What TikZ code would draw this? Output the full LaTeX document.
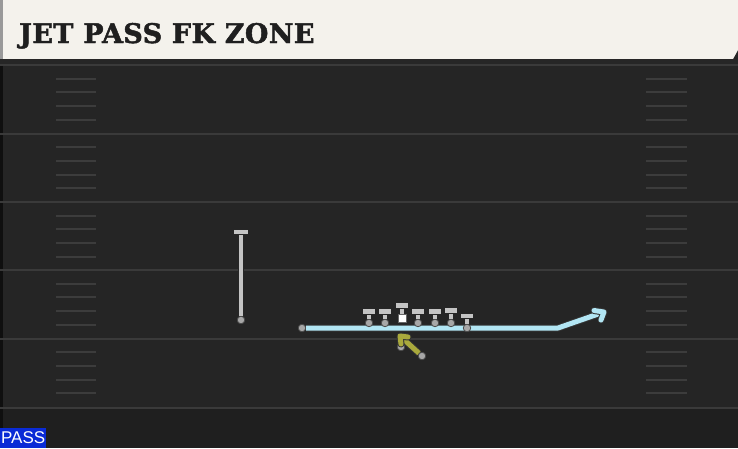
\documentclass[tikz,border=0pt]{standalone}
\usepackage{fontspec}
\usetikzlibrary{arrows.meta}
\newfontfamily\titlefont{DejaVu Serif}[FakeBold=1.8, LetterSpace=1.5]
\newfontfamily\tagfont{Liberation Sans}
\definecolor{titlebg}{HTML}{F4F2EC}
\definecolor{fieldbg}{HTML}{252525}
\definecolor{endbg}{HTML}{1F1F1F}
\definecolor{yardgray}{HTML}{3A3A3A}
\definecolor{hashgray}{HTML}{3C3C3C}
\definecolor{plyrgray}{HTML}{C4C4C4}
\definecolor{routeblue}{HTML}{B2E6F4}
\definecolor{motionyel}{HTML}{A9A93C}
\definecolor{passblue}{HTML}{0A2BD6}
\tikzset{
  yardln/.style={yardgray, line width=2pt},
  hashln/.style={hashgray, line width=2pt},
  plyr/.style={circle, fill=plyrgray!85!black, draw=black!70, line width=.8pt, inner sep=0pt, minimum size=7.5pt},
  block/.style={draw=black!85, line width=6.5pt, postaction={draw=plyrgray, line width=4.5pt}},
  route/.style={draw=black!80, line width=7pt, postaction={draw=routeblue, line width=5pt}},
  motion/.style={draw=black!80, line width=7pt, postaction={draw=motionyel, line width=5pt}},
  passtag/.style={fill=passblue, text=white, font=\tagfont\fontsize{17}{17}\selectfont, inner sep=0pt, minimum width=46pt, minimum height=20pt}
}
\begin{document}
\begin{tikzpicture}[x=1pt,y=-1pt]
  \useasboundingbox (0,0) rectangle (738,448);
  % field
  \fill[fieldbg] (0,0) rectangle (738,448);
  \fill[endbg] (0,408) rectangle (738,448);
  \fill[black!60!fieldbg] (0,59) rectangle (3,448);
  \foreach \yl in {65,133.5,202,270,338.5,408}
    \draw[yardln] (0,\yl) -- (738,\yl);
  \foreach \yl in {65,133.5,202,270,338.5}
    \foreach \k in {1,2,3,4} {
      \draw[hashln] (56,\yl+13.7*\k) -- (96,\yl+13.7*\k);
      \draw[hashln] (646,\yl+13.7*\k) -- (687,\yl+13.7*\k);
    }
  % title bar
  \fill[titlebg] (0,0) -- (738,0) -- (738,50) -- (733,59) -- (0,59) -- cycle;
  \fill[black!40] (0,0) rectangle (3,59);
  \fill[black!85] (0,59) rectangle (738,64);
  \node[anchor=base west, inner sep=0pt, text=black!88, font=\titlefont\bfseries\fontsize{27}{27}\selectfont] (title) at (19,43) {JET PASS FK ZONE};

  % receiver
  \node[plyr] (wr) at (241,320) {};
  \coordinate (wr-top) at (241,232);
  \draw[block] (wr) -- (wr-top);
  \draw[block, line cap=butt] ([xshift=-7pt]wr-top) -- ([xshift=7pt]wr-top);

  % jet route
  \node[plyr] (jet) at (302,328) {};
  \coordinate (jet-bend) at (558,328);
  \coordinate (jet-end) at (604,312);
  \draw[route, line join=round] (jet) -- (jet-bend) -- (jet-end);
  \draw[route, line cap=round, line join=round] ([shift={(-10,-1.5)}]jet-end) -- (jet-end) -- ([shift={(-3,8)}]jet-end);

  % line
  \foreach \nm/\px/\tp/\bt in {lt/369/311.5/323,lg/385/311.5/323,rg/418/311.5/323,rt/435/311.5/323,te/451/310.5/323,wt/467/316/328} {
    \node[plyr] (\nm) at (\px,\bt) {};
    \coordinate (\nm-top) at (\px,\tp);
    \draw[block] (\nm) -- (\nm-top);
    \draw[block, line cap=butt] ([xshift=-6pt]\nm-top) -- ([xshift=6pt]\nm-top);
  }
  \node[fill=white, draw=black!60, line width=.8pt, inner sep=0pt, minimum size=8pt] (c) at (402,318.5) {};
  \coordinate (c-top) at (402,305.5);
  \draw[block] (c.north) -- (c-top);
  \draw[block, line cap=butt] ([xshift=-6pt]c-top) -- ([xshift=6pt]c-top);

  % backfield
  \node[plyr] (qb) at (401,347) {};
  \node[plyr] (rb) at (422,356) {};
  \coordinate (rb-end) at (400,336);
  \draw[motion] (rb) -- (rb-end);
  \draw[motion, line cap=round, line join=round] ([shift={(1,8)}]rb-end) -- (rb-end) -- ([shift={(8,1)}]rb-end);

  \node[passtag, anchor=south west] (tag) at (0,448) {PASS};
\end{tikzpicture}
\end{document}
